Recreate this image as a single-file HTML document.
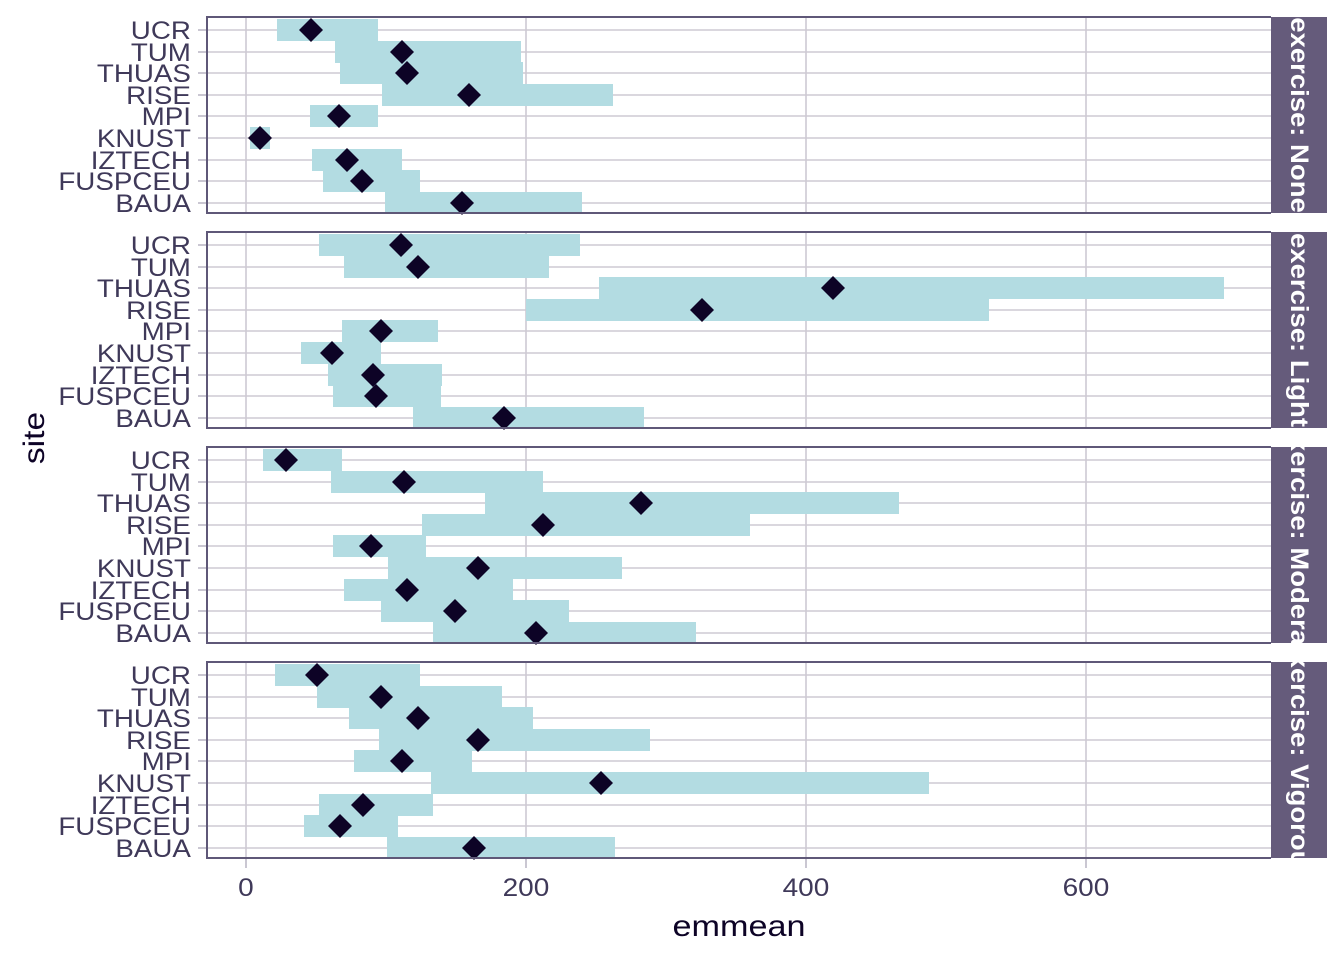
<!DOCTYPE html>
<html><head><meta charset="utf-8"><style>body{margin:0;background:#fff}svg{display:block}text{font-family:"Liberation Sans",sans-serif}</style></head><body>
<svg width="1344" height="960" viewBox="0 0 1344 960" xmlns="http://www.w3.org/2000/svg">
<defs>
<clipPath id="c0"><rect x="1271" y="17" width="56" height="196"/></clipPath>
<clipPath id="c1"><rect x="1271" y="232" width="56" height="196"/></clipPath>
<clipPath id="c2"><rect x="1271" y="447" width="56" height="196"/></clipPath>
<clipPath id="c3"><rect x="1271" y="662" width="56" height="196"/></clipPath>
<g id="grid">
<g stroke="#cdcad3" stroke-width="1.6">
<line x1="207" x2="1271" y1="30" y2="30"/><line x1="207" x2="1271" y1="52" y2="52"/><line x1="207" x2="1271" y1="73" y2="73"/><line x1="207" x2="1271" y1="95" y2="95"/><line x1="207" x2="1271" y1="116" y2="116"/><line x1="207" x2="1271" y1="138" y2="138"/><line x1="207" x2="1271" y1="160" y2="160"/><line x1="207" x2="1271" y1="181" y2="181"/><line x1="207" x2="1271" y1="203" y2="203"/>
<line x1="246" x2="246" y1="17" y2="213"/><line x1="526" x2="526" y1="17" y2="213"/><line x1="806" x2="806" y1="17" y2="213"/><line x1="1086" x2="1086" y1="17" y2="213"/>
</g>
<g stroke="#bdb9c6" stroke-width="1.6">
<line x1="198" x2="207" y1="30" y2="30"/><line x1="198" x2="207" y1="52" y2="52"/><line x1="198" x2="207" y1="73" y2="73"/><line x1="198" x2="207" y1="95" y2="95"/><line x1="198" x2="207" y1="116" y2="116"/><line x1="198" x2="207" y1="138" y2="138"/><line x1="198" x2="207" y1="160" y2="160"/><line x1="198" x2="207" y1="181" y2="181"/><line x1="198" x2="207" y1="203" y2="203"/>
</g>
<g fill="#3f3959" font-size="25" text-anchor="end" transform="scale(1.11,1)">
<text x="172" y="39">UCR</text><text x="172" y="61">TUM</text><text x="172" y="82">THUAS</text><text x="172" y="104">RISE</text><text x="172" y="125">MPI</text><text x="172" y="147">KNUST</text><text x="172" y="169">IZTECH</text><text x="172" y="190">FUSPCEU</text><text x="172" y="212">BAUA</text>
</g>
</g>
<g id="frame"><path d="M1271 17 H207 V213 H1271" fill="none" stroke="#5f5878" stroke-width="2"/><rect x="1271" y="17" width="56" height="196" fill="#655b7b"/></g>
</defs>

<!-- Panel 1 -->
<g>
<use href="#grid"/>
<g fill="#b3dce2">
<rect x="277" y="19" width="101" height="22"/><rect x="335" y="41" width="186" height="22"/><rect x="340" y="62" width="183" height="22"/><rect x="382" y="84" width="231" height="22"/><rect x="310" y="105" width="68" height="22"/><rect x="250" y="127" width="20" height="22"/><rect x="312" y="149" width="90" height="22"/><rect x="323" y="170" width="97" height="22"/><rect x="385" y="192" width="197" height="21"/>
</g>
<g fill="#0d0326">
<path d="M311 18l12 12-12 12-12-12z"/><path d="M402 40l12 12-12 12-12-12z"/><path d="M407 61l12 12-12 12-12-12z"/><path d="M469 83l12 12-12 12-12-12z"/><path d="M339 104l12 12-12 12-12-12z"/><path d="M260 126l12 12-12 12-12-12z"/><path d="M347 148l12 12-12 12-12-12z"/><path d="M362 169l12 12-12 12-12-12z"/><path d="M462 191l12 12-12 12-12-12z"/>
</g>
<use href="#frame"/>
</g>
<g clip-path="url(#c0)"><text transform="translate(1291,115) rotate(90) scale(1.1,1)" text-anchor="middle" fill="#fff" font-size="25" font-weight="bold">exercise: None</text></g>

<!-- Panel 2 -->
<g transform="translate(0,215)">
<use href="#grid"/>
<g fill="#b3dce2">
<rect x="319" y="19" width="261" height="22"/><rect x="344" y="41" width="205" height="22"/><rect x="599" y="62" width="625" height="22"/><rect x="526" y="84" width="463" height="22"/><rect x="342" y="105" width="96" height="22"/><rect x="301" y="127" width="80" height="22"/><rect x="328" y="149" width="114" height="22"/><rect x="333" y="170" width="108" height="22"/><rect x="413" y="192" width="231" height="21"/>
</g>
<g fill="#0d0326">
<path d="M401 18l12 12-12 12-12-12z"/><path d="M418 40l12 12-12 12-12-12z"/><path d="M833 61l12 12-12 12-12-12z"/><path d="M702 83l12 12-12 12-12-12z"/><path d="M381 104l12 12-12 12-12-12z"/><path d="M332 126l12 12-12 12-12-12z"/><path d="M373 148l12 12-12 12-12-12z"/><path d="M376 169l12 12-12 12-12-12z"/><path d="M504 191l12 12-12 12-12-12z"/>
</g>
<use href="#frame"/>
</g>
<g clip-path="url(#c1)"><text transform="translate(1291,330) rotate(90) scale(1.1,1)" text-anchor="middle" fill="#fff" font-size="25" font-weight="bold">exercise: Light</text></g>

<!-- Panel 3 -->
<g transform="translate(0,430)">
<use href="#grid"/>
<g fill="#b3dce2">
<rect x="263" y="19" width="79" height="22"/><rect x="331" y="41" width="212" height="22"/><rect x="485" y="62" width="414" height="22"/><rect x="422" y="84" width="328" height="22"/><rect x="333" y="105" width="93" height="22"/><rect x="388" y="127" width="234" height="22"/><rect x="344" y="149" width="169" height="22"/><rect x="381" y="170" width="188" height="22"/><rect x="433" y="192" width="263" height="21"/>
</g>
<g fill="#0d0326">
<path d="M286 18l12 12-12 12-12-12z"/><path d="M404 40l12 12-12 12-12-12z"/><path d="M641 61l12 12-12 12-12-12z"/><path d="M543 83l12 12-12 12-12-12z"/><path d="M371 104l12 12-12 12-12-12z"/><path d="M478 126l12 12-12 12-12-12z"/><path d="M407 148l12 12-12 12-12-12z"/><path d="M455 169l12 12-12 12-12-12z"/><path d="M536 191l12 12-12 12-12-12z"/>
</g>
<use href="#frame"/>
</g>
<g clip-path="url(#c2)"><text transform="translate(1291,545) rotate(90) scale(1.1,1)" text-anchor="middle" fill="#fff" font-size="25" font-weight="bold">exercise: Moderate</text></g>

<!-- Panel 4 -->
<g transform="translate(0,645)">
<use href="#grid"/>
<g fill="#b3dce2">
<rect x="275" y="19" width="145" height="22"/><rect x="317" y="41" width="185" height="22"/><rect x="349" y="62" width="184" height="22"/><rect x="379" y="84" width="271" height="22"/><rect x="354" y="105" width="118" height="22"/><rect x="431" y="127" width="498" height="22"/><rect x="319" y="149" width="114" height="22"/><rect x="304" y="170" width="94" height="22"/><rect x="387" y="192" width="228" height="21"/>
</g>
<g fill="#0d0326">
<path d="M317 18l12 12-12 12-12-12z"/><path d="M381 40l12 12-12 12-12-12z"/><path d="M418 61l12 12-12 12-12-12z"/><path d="M478 83l12 12-12 12-12-12z"/><path d="M402 104l12 12-12 12-12-12z"/><path d="M601 126l12 12-12 12-12-12z"/><path d="M363 148l12 12-12 12-12-12z"/><path d="M340 169l12 12-12 12-12-12z"/><path d="M474 191l12 12-12 12-12-12z"/>
</g>
<use href="#frame"/>
</g>
<g clip-path="url(#c3)"><text transform="translate(1291,760) rotate(90) scale(1.1,1)" text-anchor="middle" fill="#fff" font-size="25" font-weight="bold">exercise: Vigorous</text></g>

<!-- x axis -->
<g stroke="#bdb9c6" stroke-width="1.6">
<line x1="246" x2="246" y1="859" y2="868"/><line x1="526" x2="526" y1="859" y2="868"/><line x1="806" x2="806" y1="859" y2="868"/><line x1="1086" x2="1086" y1="859" y2="868"/>
</g>
<g fill="#3f3959" font-size="25" text-anchor="middle" transform="scale(1.12,1)">
<text x="219.6" y="896">0</text><text x="469.6" y="896">200</text><text x="719.6" y="896">400</text><text x="969.6" y="896">600</text>
</g>
<text transform="translate(739,936) scale(1.14,1)" text-anchor="middle" font-size="30" fill="#0d0326">emmean</text>
<text transform="translate(44,438) rotate(-90) scale(1.12,1)" text-anchor="middle" font-size="30" fill="#0d0326">site</text>
</svg>
</body></html>
